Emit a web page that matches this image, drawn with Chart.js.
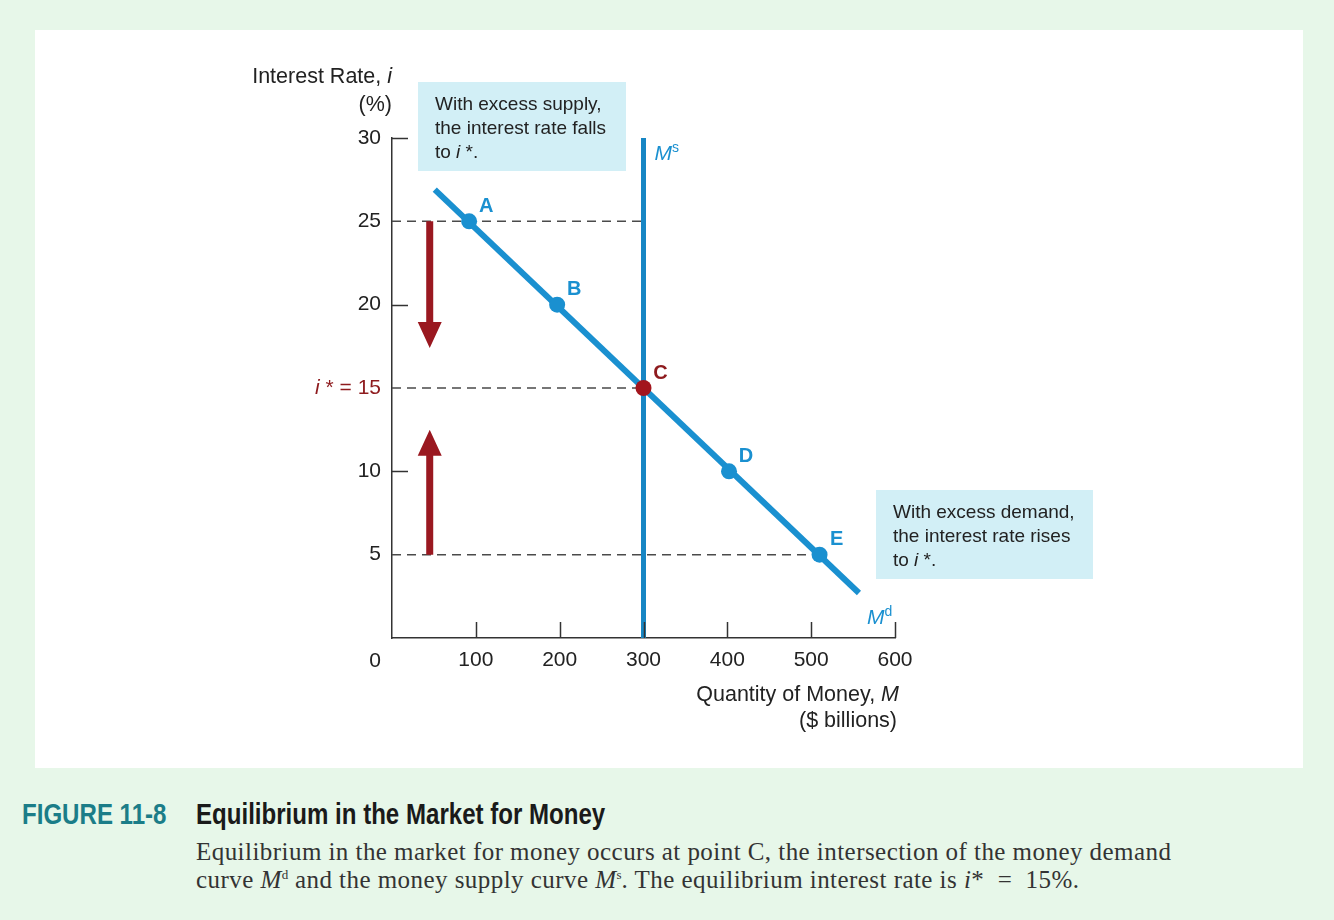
<!DOCTYPE html>
<html>
<head>
<meta charset="utf-8">
<script src="https://cdn.jsdelivr.net/npm/chart.js@4.4.1/dist/chart.umd.min.js"></script>
<style>
  html, body { margin: 0; padding: 0; }
  body { width: 1334px; height: 920px; background: #e7f7e9; position: relative; overflow: hidden; font-family: "Liberation Sans", Arial, sans-serif; }
  #panel { position: absolute; left: 35px; top: 30px; width: 1268px; height: 738px; background: #ffffff; }
  #panel canvas { position: absolute; left: 0; top: 0; }
  .fig { position: absolute; top: 797px; font-family: "Liberation Sans", Arial, sans-serif; font-weight: bold; font-size: 29px; line-height: 34px; white-space: nowrap; transform: scaleX(0.83); transform-origin: 0 0; }
  #fignum { left: 22px; color: #1b7d88; }
  #figtitle { left: 196px; color: #1a1a1a; }
  #body { position: absolute; left: 196px; top: 838px; font-family: "Liberation Serif", "DejaVu Serif", serif; font-size: 25px; letter-spacing: 0.45px; line-height: 28px; color: #333; white-space: nowrap; }
  #body sup { font-size: 13px; vertical-align: 9px; line-height: 0; letter-spacing: 0; }
</style>
</head>
<body>
<div id="panel"><canvas id="c" width="1268" height="738"></canvas></div>
<div class="fig" id="fignum">FIGURE 11-8</div>
<div class="fig" id="figtitle">Equilibrium in the Market for Money</div>
<div id="body">Equilibrium in the market for money occurs at point C, the intersection of the money demand<br>curve <i>M</i><sup>d</sup> and the money supply curve <i>M</i><sup>s</sup>. The equilibrium interest rate is <i>i</i>* &nbsp;=&nbsp; 15%.</div>
<script>
// ---- data ----
const xTickValues = [0, 100, 200, 300, 400, 500, 600];
const yTickValues = [0, 5, 10, 15, 20, 25, 30];
const demandX = [51, 557];
const demandY = [26.9, 2.7];
const supplyX = [300, 300];
const supplyY = [0, 30];
const pointNames = ['A', 'B', 'C', 'D', 'E'];
const pointX = [92, 197, 300, 402, 510];
const pointY = [25, 20, 15, 10, 5];
const dashLevels = [25, 15, 5];
const dashEndX = [300, 300, 500];
const arrowX = [45, 45];
const arrowFrom = [25, 5];
const arrowTo = [17.4, 12.5];
const equilibriumRate = 15;

const BLUE = '#1a90d0';
const BLUE_DARK = '#1786c4';
const RED = '#a3151d';
const RED_TEXT = '#8e1b1e';
const ARROW = '#9a1820';
const TEXT = '#222222';
const BOX = '#d2eff6';

// Chart.js draws dataset 0 on top, so points come first
const datasets = [];
datasets.push({
  type: 'scatter', label: 'points',
  data: pointX.map((x, i) => ({x, y: pointY[i]})),
  pointRadius: 8, pointHoverRadius: 8,
  pointBackgroundColor: pointY.map(v => v === equilibriumRate ? RED : BLUE),
  pointBorderWidth: 0
});
datasets.push({
  type: 'line', label: 'Md',
  data: demandX.map((x, i) => ({x, y: demandY[i]})),
  borderColor: BLUE, borderWidth: 6, pointRadius: 0, fill: false, borderCapStyle: 'butt'
});
datasets.push({
  type: 'line', label: 'Ms',
  data: supplyX.map((x, i) => ({x, y: supplyY[i]})),
  borderColor: BLUE_DARK, borderWidth: 5, pointRadius: 0, fill: false
});
dashLevels.forEach((lv, i) => {
  datasets.push({
    type: 'line', label: 'dash' + i,
    data: [{x: 0, y: lv}, {x: dashEndX[i], y: lv}],
    borderColor: '#4a4a4a', borderWidth: 1.5, borderDash: [9, 6],
    pointRadius: 0, fill: false
  });
});

function runs(ctx, parts, x, y, align) {
  let w = 0;
  parts.forEach(p => { ctx.font = p.font; w += ctx.measureText(p.t).width; });
  let cx = align === 'right' ? x - w : (align === 'center' ? x - w / 2 : x);
  ctx.textAlign = 'left';
  parts.forEach(p => {
    ctx.font = p.font;
    ctx.fillStyle = p.color || TEXT;
    ctx.fillText(p.t, cx, y + (p.dy || 0));
    cx += ctx.measureText(p.t).width;
  });
}

const F = '"Liberation Sans", Arial, sans-serif';
const overlay = {
  id: 'overlay',
  afterDatasetsDraw(chart) {
    const ctx = chart.ctx;
    const xs = chart.scales.x, ys = chart.scales.y;
    const a = chart.chartArea;
    ctx.save();
    // inward ticks
    ctx.strokeStyle = '#333'; ctx.lineWidth = 1.5;
    xTickValues.forEach(v => {
      if (v === 0) return;
      const px = Math.round(xs.getPixelForValue(v)) + 0.5;
      ctx.beginPath(); ctx.moveTo(px, a.bottom); ctx.lineTo(px, a.bottom - 16); ctx.stroke();
    });
    yTickValues.forEach(v => {
      if (v === 0 || dashLevels.includes(v)) return;
      const py = Math.round(ys.getPixelForValue(v)) + 0.5;
      ctx.beginPath(); ctx.moveTo(a.left, py); ctx.lineTo(a.left + 16, py); ctx.stroke();
    });
    // arrows
    ctx.fillStyle = ARROW;
    arrowX.forEach((ax, i) => {
      const px = xs.getPixelForValue(ax);
      const y0 = ys.getPixelForValue(arrowFrom[i]);
      const y1 = ys.getPixelForValue(arrowTo[i]);
      const dir = y1 > y0 ? 1 : -1;
      const headH = 26, headW = 12, shaftW = 3.5;
      const yb = y1 - dir * headH;
      ctx.beginPath();
      ctx.moveTo(px - shaftW, y0);
      ctx.lineTo(px + shaftW, y0);
      ctx.lineTo(px + shaftW, yb);
      ctx.lineTo(px + headW, yb);
      ctx.lineTo(px, y1);
      ctx.lineTo(px - headW, yb);
      ctx.lineTo(px - shaftW, yb);
      ctx.closePath();
      ctx.fill();
    });
    ctx.textBaseline = 'middle';
    // point labels
    pointNames.forEach((n, i) => {
      const px = xs.getPixelForValue(pointX[i]);
      const py = ys.getPixelForValue(pointY[i]);
      ctx.font = 'bold 20px ' + F;
      ctx.fillStyle = pointY[i] === equilibriumRate ? RED_TEXT : BLUE;
      ctx.textAlign = 'center';
      ctx.fillText(n, px + 17, py - 15);
    });
    // curve labels
    ctx.textBaseline = 'alphabetic';
    runs(ctx, [{t: 'M', font: 'italic 21px ' + F, color: BLUE}, {t: 's', font: '14px ' + F, color: BLUE, dy: -8}],
      xs.getPixelForValue(supplyX[0]) + 11, ys.getPixelForValue(supplyY[1]) + 22, 'left');
    runs(ctx, [{t: 'M', font: 'italic 21px ' + F, color: BLUE}, {t: 'd', font: '14px ' + F, color: BLUE, dy: -8}],
      a.right - 28, a.bottom - 14, 'left');
    // axis titles
    ctx.textBaseline = 'middle';
    runs(ctx, [{t: 'Interest Rate, ', font: '21.5px ' + F}, {t: 'i', font: 'italic 21.5px ' + F}], a.left, a.top - 61, 'right');
    runs(ctx, [{t: '(%)', font: '21.5px ' + F}], a.left, a.top - 33, 'right');
    runs(ctx, [{t: 'Quantity of Money, ', font: '21.5px ' + F}, {t: 'M', font: 'italic 21.5px ' + F}], a.right + 4, a.bottom + 57, 'right');
    runs(ctx, [{t: '($ billions)', font: '21.5px ' + F}], a.right + 2, a.bottom + 83, 'right');
    runs(ctx, [{t: '0', font: '21px ' + F}], a.left - 17, a.bottom + 23, 'center');
    runs(ctx, [{t: 'i', font: 'italic 21px ' + F, color: RED_TEXT}, {t: ' * = ' + equilibriumRate, font: '21px ' + F, color: RED_TEXT}],
      a.left - 11, ys.getPixelForValue(equilibriumRate), 'right');
    // annotation boxes
    const boxes = [
      {x: a.left + 26, y: a.top - 56, w: 208, h: 89, lines: ['With excess supply,', 'the interest rate falls']},
      {x: a.left + 484, y: a.top + 352, w: 217, h: 89, lines: ['With excess demand,', 'the interest rate rises']}
    ];
    boxes.forEach(b => {
      ctx.fillStyle = BOX;
      ctx.fillRect(b.x, b.y, b.w, b.h);
      const tx = b.x + 17;
      b.lines.forEach((l, k) => runs(ctx, [{t: l, font: '19px ' + F}], tx, b.y + 23 + k * 24, 'left'));
      runs(ctx, [{t: 'to ', font: '19px ' + F}, {t: 'i', font: 'italic 19px ' + F}, {t: ' *.', font: '19px ' + F}], tx, b.y + 71, 'left');
    });
    ctx.restore();
  }
};

new Chart(document.getElementById('c'), {
  data: { datasets },
  options: {
    responsive: false,
    animation: false,
    devicePixelRatio: 1,
    layout: { padding: { left: 317, right: 408, top: 108, bottom: 90 } },
    plugins: { legend: { display: false }, tooltip: { enabled: false } },
    scales: {
      x: {
        type: 'linear', min: 0, max: 600,
        afterFit(s) { s.height = 40; },
        afterBuildTicks(s) { s.ticks = xTickValues.map(v => ({value: v})); },
        ticks: { callback: v => (v === 0 ? '' : String(v)), color: TEXT, padding: 2, font: { family: F, size: 21 }, maxRotation: 0 },
        grid: { display: false },
        border: { display: true, color: '#333', width: 1.5 }
      },
      y: {
        type: 'linear', min: 0, max: 30,
        afterFit(s) { s.width = 40; },
        afterBuildTicks(s) { s.ticks = yTickValues.map(v => ({value: v})); },
        ticks: { callback: v => (v === 0 || v === equilibriumRate ? '' : String(v)), color: TEXT, padding: 3, font: { family: F, size: 21 } },
        grid: { display: false },
        border: { display: true, color: '#333', width: 1.5 }
      }
    }
  },
  plugins: [overlay]
});
</script>
</body>
</html>
